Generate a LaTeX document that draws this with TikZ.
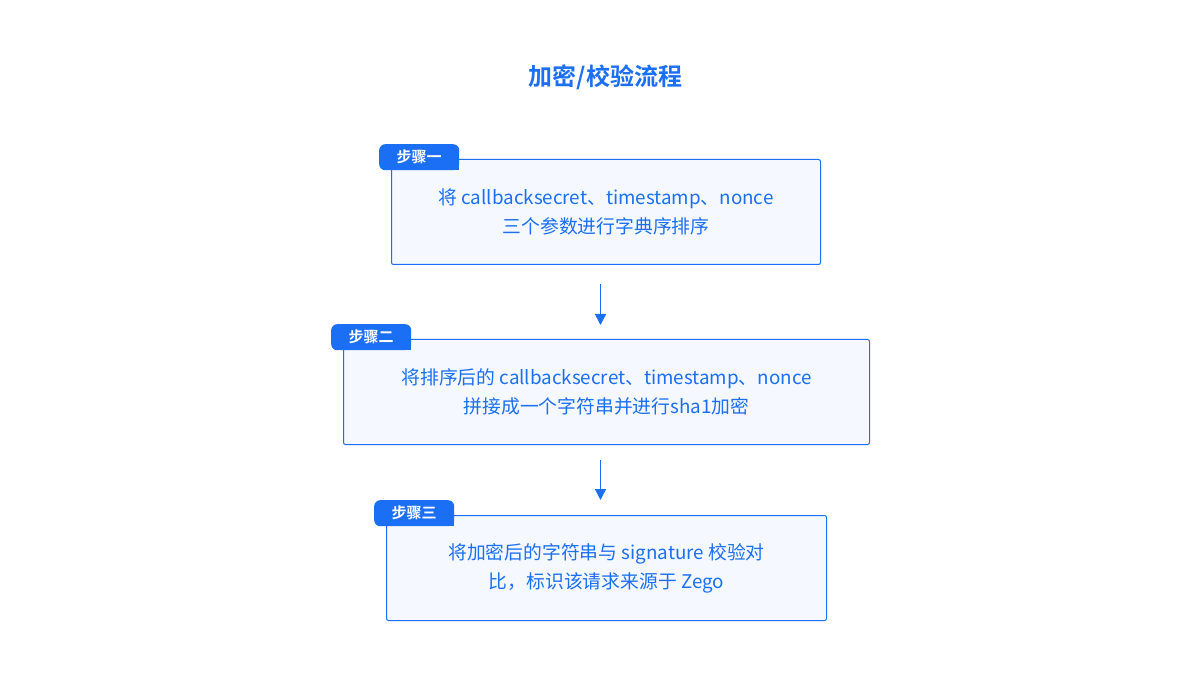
\documentclass[tikz,border=0pt]{standalone}
\usepackage{fontspec}
\setmainfont{Noto Sans CJK SC}
\newfontfamily\cjkbold{Noto Sans CJK SC Bold}
\usetikzlibrary{arrows.meta,calc}
\definecolor{zblue}{HTML}{1A6FF4}
\definecolor{zfill}{HTML}{F5F9FF}
\tikzset{
  x=1pt,y=-1pt,
  stepbox/.style={draw=zblue,fill=zfill,line width=1pt,rounded corners=2pt,anchor=north west,inner sep=0pt,
    align=center,text=zblue,font=\fontsize{18.8}{29}\selectfont},
  tabbox/.style={fill=zblue,rounded corners=6pt,anchor=north west,inner sep=0pt,minimum width=80pt,minimum height=26pt,
    text=white,font=\cjkbold\fontsize{15}{17}\selectfont},
  arr/.style={draw=zblue,line width=1.5pt,-{Triangle[width=11pt,length=11pt]}},
}
\begin{document}
\begin{tikzpicture}
\useasboundingbox (0,0) rectangle (1200,676);
\fill[white] (0,0) rectangle (1200,676);
\node[text=zblue,font=\cjkbold\fontsize{24}{28}\selectfont] (title) at (605.5,77) {加密/校验流程};
% boxes
\node[stepbox,minimum width=429pt,minimum height=105pt] (b1) at (391,159)
  {将 callbacksecret、timestamp、nonce\\三个参数进行字典序排序};
\node[stepbox,minimum width=526pt,minimum height=105pt] (b2) at (343,339)
  {将排序后的 callbacksecret、timestamp、nonce\\拼接成一个字符串并进行sha1加密};
\node[stepbox,minimum width=440pt,minimum height=105pt] (b3) at (386,515)
  {将加密后的字符串与 signature 校验对\\比，标识该请求来源于 Zego};
% tabs
\node[tabbox] (t1) at (379,144) {步骤一};
\fill[zblue] (t1.south east) rectangle ++(-8,-8);
\node[tabbox] (t2) at (331,324) {步骤二};
\fill[zblue] (t2.south east) rectangle ++(-8,-8);
\node[tabbox] (t3) at (374,500) {步骤三};
\fill[zblue] (t3.south east) rectangle ++(-8,-8);
% arrows
\coordinate (a1s) at ([xshift=-5.5pt]b1.south);
\coordinate (a2s) at ([xshift=-6pt]b2.south);
\draw[arr,shorten <=19pt,shorten >=14pt] (a1s) -- (a1s |- b2.north);
\draw[arr,shorten <=15pt,shorten >=15pt] (a2s) -- (a2s |- b3.north);
\end{tikzpicture}
\end{document}
